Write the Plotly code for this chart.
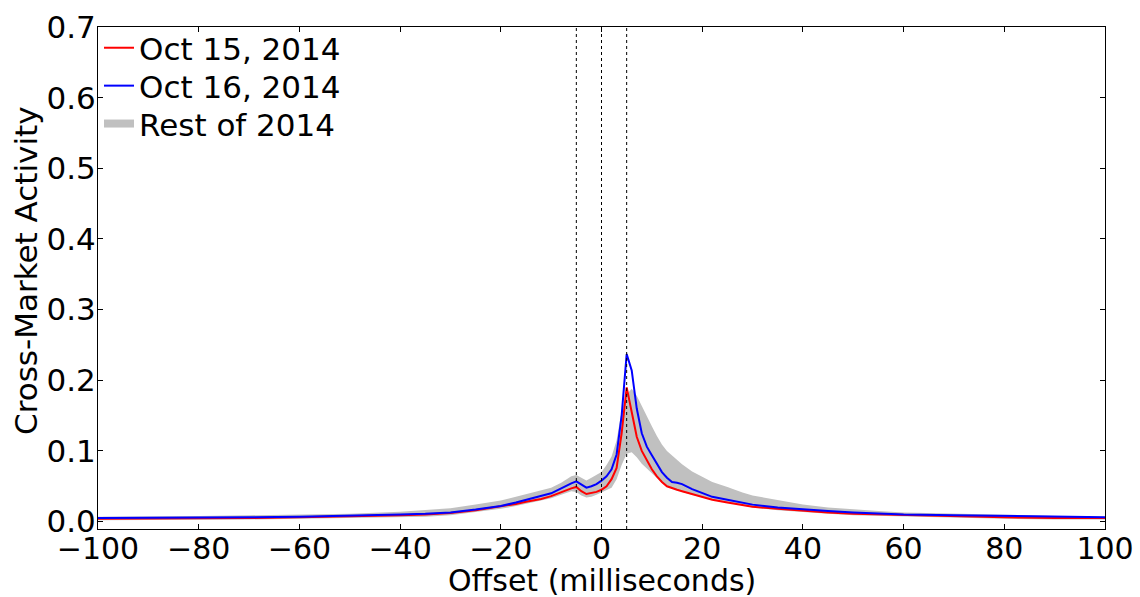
import plotly.graph_objects as go

offset_ms = [-100, -90, -80, -70, -60, -50, -40, -35, -30, -25, -20, -17, -15, -12, -10,
             -8, -7, -6, -5, -4, -3, -2, -1, 0, 1, 2, 3, 4, 5, 6, 7, 8, 9, 10, 11, 12,
             13, 14, 15, 16, 18, 20, 22, 25, 28, 30, 35, 40, 45, 50, 55, 60, 70, 80, 90, 100]

oct15 = [0.004, 0.004, 0.005, 0.005, 0.006, 0.007, 0.009, 0.010, 0.012, 0.016, 0.021, 0.025,
         0.028, 0.032, 0.036, 0.042, 0.045, 0.047, 0.049, 0.043, 0.039, 0.040, 0.042, 0.045,
         0.050, 0.060, 0.076, 0.125, 0.190, 0.155, 0.120, 0.100, 0.086, 0.074, 0.064, 0.056,
         0.050, 0.047, 0.045, 0.043, 0.039, 0.035, 0.031, 0.027, 0.024, 0.021, 0.018, 0.015,
         0.013, 0.011, 0.010, 0.009, 0.008, 0.006, 0.005, 0.005]

oct16 = [0.005, 0.005, 0.006, 0.006, 0.007, 0.008, 0.010, 0.011, 0.013, 0.017, 0.022, 0.027,
         0.031, 0.036, 0.040, 0.047, 0.051, 0.054, 0.057, 0.052, 0.048, 0.050, 0.053, 0.058,
         0.064, 0.074, 0.095, 0.150, 0.237, 0.214, 0.160, 0.125, 0.106, 0.094, 0.081, 0.070,
         0.062, 0.056, 0.055, 0.053, 0.046, 0.040, 0.035, 0.031, 0.027, 0.024, 0.020, 0.017,
         0.015, 0.013, 0.011, 0.010, 0.009, 0.008, 0.006, 0.006]

rest_upper = [0.007, 0.007, 0.008, 0.009, 0.010, 0.011, 0.014, 0.016, 0.019, 0.024, 0.030, 0.035,
              0.039, 0.044, 0.048, 0.055, 0.059, 0.064, 0.066, 0.062, 0.058, 0.062, 0.066, 0.070,
              0.080, 0.092, 0.115, 0.157, 0.180, 0.188, 0.178, 0.163, 0.148, 0.135, 0.121, 0.109,
              0.100, 0.094, 0.087, 0.081, 0.071, 0.063, 0.056, 0.049, 0.041, 0.037, 0.030, 0.024,
              0.020, 0.017, 0.015, 0.013, 0.011, 0.009, 0.008, 0.007]

rest_lower = [0.002, 0.002, 0.003, 0.003, 0.004, 0.005, 0.006, 0.007, 0.009, 0.013, 0.018, 0.022,
              0.025, 0.029, 0.033, 0.038, 0.041, 0.043, 0.042, 0.037, 0.034, 0.035, 0.038, 0.041,
              0.044, 0.048, 0.060, 0.080, 0.096, 0.098, 0.091, 0.082, 0.075, 0.068, 0.061, 0.055,
              0.050, 0.047, 0.044, 0.042, 0.038, 0.034, 0.031, 0.027, 0.023, 0.020, 0.016, 0.013,
              0.011, 0.009, 0.008, 0.007, 0.005, 0.004, 0.003, 0.003]

marker_lines_ms = [-5, 0, 5]
x_ticks = [-100, -80, -60, -40, -20, 0, 20, 40, 60, 80, 100]
y_ticks = [0.0, 0.1, 0.2, 0.3, 0.4, 0.5, 0.6, 0.7]

GRAY = "#c0c0c0"
FONT = "DejaVu Sans"
FS = 31
FS_X = 30

fig = go.Figure()

fig.add_trace(go.Scatter(x=offset_ms, y=rest_lower, mode="lines", line=dict(width=0, color=GRAY),
                         showlegend=False, hoverinfo="skip"))
fig.add_trace(go.Scatter(x=offset_ms, y=rest_upper, mode="lines", line=dict(width=0, color=GRAY),
                         fill="tonexty", fillcolor=GRAY, showlegend=False, hoverinfo="skip"))
fig.add_trace(go.Scatter(x=offset_ms, y=oct15, mode="lines", name="Oct 15, 2014",
                         line=dict(color="#ff0000", width=2), legend="legend"))
fig.add_trace(go.Scatter(x=offset_ms, y=oct16, mode="lines", name="Oct 16, 2014",
                         line=dict(color="#0000ff", width=2), legend="legend2"))
fig.add_trace(go.Scatter(x=[None], y=[None], mode="lines", name="Rest of 2014",
                         line=dict(color=GRAY, width=8), legend="legend3"))

for xv in marker_lines_ms:
    fig.add_shape(type="line", x0=xv, x1=xv, y0=0, y1=1, xref="x", yref="paper",
                  line=dict(color="black", width=1, dash="dot"))

axis_common = dict(showline=True, linecolor="black", linewidth=1, mirror="ticks",
                   ticks="inside", ticklen=5, tickcolor="black", showgrid=False,
                   zeroline=False, automargin=False)

fig.update_xaxes(range=[-100, 100], tickvals=x_ticks, ticklabelstandoff=-7,
                 tickfont=dict(family=FONT, size=FS_X, color="black"), **axis_common)
fig.update_yaxes(range=[-0.0105, 0.7], tickvals=y_ticks, tickformat=".1f",
                 ticklabelstandoff=-5, tickfont=dict(family=FONT, size=FS, color="black"),
                 **axis_common)

fig.add_annotation(text="Offset (milliseconds)", xref="paper", yref="paper",
                   x=0.5, y=-0.103, xanchor="center", yanchor="middle", showarrow=False,
                   font=dict(family=FONT, size=FS_X, color="black"))
fig.add_annotation(text="Cross-Market Activity", xref="paper", yref="paper",
                   x=-0.0715, y=0.516, xanchor="center", yanchor="middle", textangle=-90,
                   showarrow=False, font=dict(family=FONT, size=FS, color="black"))

leg_common = dict(x=0.001, xanchor="left", yanchor="middle", bgcolor="rgba(0,0,0,0)",
                  font=dict(family=FONT, size=FS, color="black"), itemwidth=30)

fig.update_layout(
    width=1140, height=597,
    margin=dict(l=98, r=35, t=27, b=68),
    plot_bgcolor="white", paper_bgcolor="white",
    legend=dict(y=0.958, **leg_common),
    legend2=dict(y=0.8825, **leg_common),
    legend3=dict(y=0.807, **leg_common),
    showlegend=True,
)

fig.write_html("out.html", config={"displayModeBar": False},
               post_script="document.body.style.margin='0';")
